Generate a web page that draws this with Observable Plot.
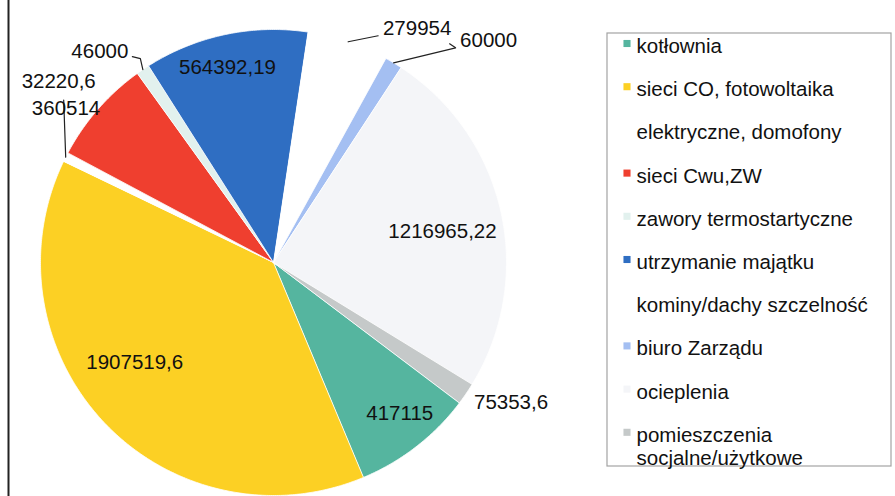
<!DOCTYPE html>
<html><head><meta charset="utf-8">
<script src="https://cdn.jsdelivr.net/npm/d3@7"></script>
<script src="https://cdn.jsdelivr.net/npm/@observablehq/plot@0.6"></script>
<style>
html,body{margin:0;padding:0;background:#fff;}
#chart svg{display:block;}
</style></head><body><div id="chart"></div>
<script>
// ---- data ----
const categories = ["kotłownia","sieci CO, fotowoltaika","elektryczne, domofony","sieci Cwu,ZW","zawory termostartyczne","utrzymanie majątku","kominy/dachy szczelność","biuro Zarządu","ocieplenia","pomieszczenia socjalne/użytkowe"];
const values = [417115,1907519.6,32220.6,360514,46000,564392.19,279954,60000,1216965.22,75353.6];
const valueLabels = ["417115","1907519,6","32220,6","360514","46000","564392,19","279954","60000","1216965,22","75353,6"];
const legendLabels = ["kotłownia","sieci CO, fotowoltaika","elektryczne, domofony","sieci Cwu,ZW","zawory termostartyczne","utrzymanie majątku","kominy/dachy szczelność","biuro Zarządu","ocieplenia","pomieszczenia\nsocjalne/użytkowe"];
const colors = ["#55b59f","#fcd024","#ffffff","#ef3f2f","#e2f1ee","#2f6ec2","#ffffff","#a4bff2","#f4f5f8","#c5c9c9"];

// ---- layout ----
const W = 895, H = 496;
const cx = 273, cy = 262, R = 233;
const startDeg = 127;
const FONT = 20.5;
// label placement: radial factor k and pixel nudges
const labelPlace = [
  {k:.75, dx:19, dy:13},
  {k:.75, dx:-12, dy:-20},
  {k:1, dx:-7, dy:-76},
  {k:1, dx:-32, dy:-1},
  {k:1, dx:-43, dy:-18},
  {k:.85, dx:-5, dy:-1},
  {k:1, dx:69, dy:-13},
  {k:1, dx:95, dy:-22},
  {k:.75, dx:-1.5, dy:7},
  {k:1, dx:45, dy:9}
];
// leader lines: label index and path points relative to label centre
const leaders = [
  {i:2, pts:[[5,19]]},
  {i:4, pts:[[40.5,7],[32.5,5]]},
  {i:6, pts:[[-39,7]]},
  {i:7, pts:[[-33,7],[-39,3]]}
];
const legend = {x0:607, x1:891, y0:33, y1:466, row0:43, step:43.2, mx:626.5, tx:636};

// ---- derived ----
const total = d3.sum(values);
const cum = d3.cumsum(values);
const ang = d3.scaleLinear().domain([0,total]).range([startDeg*Math.PI/180, (startDeg+360)*Math.PI/180]);
const pt = (a,k) => [cx + k*R*Math.sin(a), cy - k*R*Math.cos(a)];

const slicePts = [];
categories.forEach((c,i) => {
  const v0 = i ? cum[i-1] : 0, v1 = cum[i];
  const a0 = ang(v0), a1 = ang(v1);
  const n = Math.max(2, Math.ceil((a1-a0)/(Math.PI/360)));
  slicePts.push({cat:c, x:cx, y:cy});
  for (let j=0;j<=n;j++){ const [x,y]=pt(a0+(a1-a0)*j/n,1); slicePts.push({cat:c,x,y}); }
});

const labels = categories.map((c,i) => {
  const v0 = i ? cum[i-1] : 0;
  const mid = ang(v0 + values[i]/2);
  const p = labelPlace[i];
  const [x,y] = pt(mid,p.k);
  const [ex,ey] = pt(mid,1);
  return {cat:c, text:valueLabels[i], x:x+p.dx, y:y+p.dy, ex, ey};
});

const leaderPts = [];
leaders.forEach(L => {
  const lb = labels[L.i];
  leaderPts.push({g:L.i, x:lb.ex, y:lb.ey});
  L.pts.forEach(([dx,dy]) => leaderPts.push({g:L.i, x:lb.x+dx, y:lb.y+dy}));
});

const legendRows = categories.map((c,i) => ({cat:c, text:legendLabels[i], x:legend.mx, tx:legend.tx, y:legend.row0 + i*legend.step}));

const chart = Plot.plot({
  width: W, height: H,
  margin: 0,
  style: {fontFamily: "'Liberation Sans', Arial, sans-serif", background: "#fff"},
  x: {domain:[0,W], range:[0,W], axis:null},
  y: {domain:[0,H], range:[0,H], axis:null},
  color: {domain: categories, range: colors},
  marks: [
    // chart left border
    Plot.ruleX([8], {y1:0, y2:H, stroke:"#222", strokeWidth:2}),
    // pie slices
    Plot.line(slicePts, {x:"x", y:"y", z:"cat", fill:"cat", stroke:"#fff", strokeWidth:0.8, curve:"linear-closed"}),
    // leader lines
    Plot.line(leaderPts, {x:"x", y:"y", z:"g", stroke:"#222", strokeWidth:1.2}),
    // data labels
    Plot.text(labels, {x:"x", y:"y", text:"text", fontSize:FONT, fill:"#111", textAnchor:"middle"}),
    // legend frame
    Plot.rect([legend], {x1:"x0", x2:"x1", y1:"y0", y2:"y1", fill:"none", stroke:"#a3a3a3", strokeWidth:1.2}),
    Plot.dot(legendRows, {x:"x", y:"y", symbol:"square", r:4, fill:"cat", stroke:null}),
    Plot.text(legendRows, {x:"tx", y:"y", text:"text", fontSize:FONT, fill:"#111", textAnchor:"start", lineAnchor:"top", dy:-7, lineHeight:1.13})
  ]
});
document.getElementById("chart").appendChild(chart);
</script>
</body></html>
